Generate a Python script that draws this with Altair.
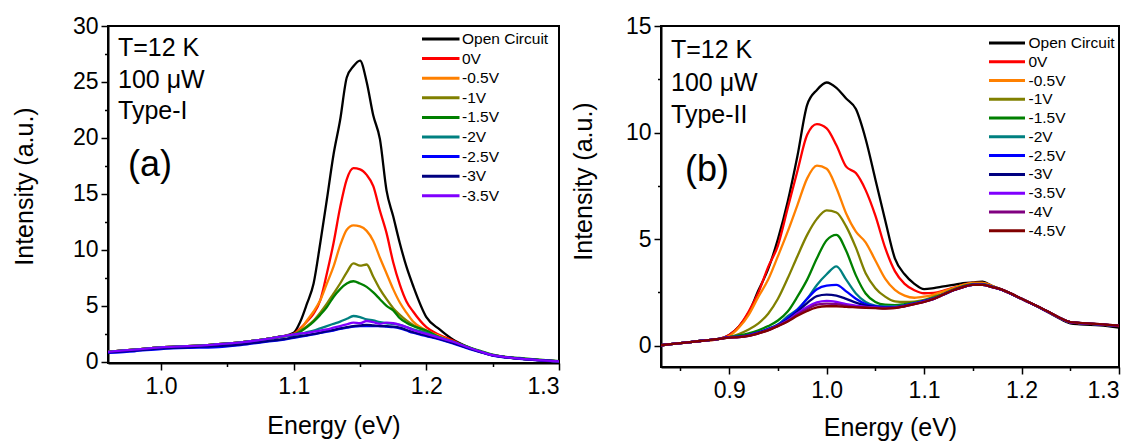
import altair as alt
import pandas as pd

# ---------------- data: panel (a) Type-I ----------------
energy_a = [0.96, 0.98, 1.0, 1.02, 1.04, 1.06, 1.08, 1.09, 1.1, 1.105, 1.11, 1.115, 1.12, 1.125,
            1.13, 1.135, 1.14, 1.145, 1.15, 1.155, 1.16, 1.165, 1.17, 1.175, 1.18, 1.185, 1.19,
            1.2, 1.21, 1.22, 1.23, 1.24, 1.25, 1.26, 1.27, 1.28, 1.29, 1.3]
a_open = [0.9, 1.1, 1.3, 1.4, 1.55, 1.75, 2.05, 2.25, 2.6, 3.6, 5.2, 7.0, 10.6, 14.5, 18.5, 21.6, 25.4, 26.4,
          26.9, 25.0, 22.0, 19.9, 15.3, 13.0, 10.6, 8.5, 6.8, 4.0, 2.9, 2.0, 1.4, 0.95, 0.6, 0.42, 0.3, 0.2, 0.12, 0.05]
a_0v = [0.9, 1.1, 1.3, 1.4, 1.55, 1.75, 2.05, 2.25, 2.5, 3.0, 3.6, 4.3, 5.5, 7.9, 10.6, 13.8, 16.3, 17.3,
        17.2, 16.7, 15.7, 13.5, 11.5, 8.9, 6.9, 5.4, 4.5, 3.1, 2.4, 1.9, 1.35, 0.95, 0.6, 0.42, 0.3, 0.2, 0.12, 0.05]
a_m05 = [0.9, 1.1, 1.3, 1.4, 1.55, 1.75, 2.05, 2.25, 2.45, 2.9, 3.7, 4.5, 5.5, 7.0, 8.5, 10.4, 11.8, 12.2,
         12.1, 11.7, 10.8, 9.3, 7.9, 6.5, 5.3, 4.4, 3.6, 2.8, 2.3, 1.8, 1.35, 0.95, 0.6, 0.42, 0.3, 0.2, 0.12, 0.05]
a_m1 = [0.9, 1.1, 1.3, 1.4, 1.55, 1.75, 2.05, 2.25, 2.45, 2.8, 3.2, 3.7, 4.4, 5.2, 6.1, 7.0, 8.0, 8.8,
        8.6, 8.7, 7.6, 6.5, 5.6, 4.8, 4.2, 3.7, 3.3, 2.7, 2.2, 1.8, 1.35, 0.95, 0.6, 0.42, 0.3, 0.2, 0.12, 0.05]
a_m15 = [0.9, 1.1, 1.3, 1.4, 1.55, 1.75, 2.05, 2.25, 2.45, 2.7, 3.1, 3.6, 4.2, 4.9, 5.8, 6.5, 7.0, 7.2,
         7.0, 6.7, 6.2, 5.6, 5.0, 4.6, 3.9, 3.5, 3.2, 2.8, 2.2, 1.8, 1.4, 1.0, 0.65, 0.45, 0.35, 0.25, 0.15, 0.07]
a_m2 = [0.9, 1.1, 1.3, 1.4, 1.55, 1.75, 2.05, 2.25, 2.4, 2.5, 2.65, 2.8, 3.0, 3.2, 3.4, 3.6, 3.85, 4.1,
        4.0, 3.8, 3.7, 3.55, 3.45, 3.4, 3.3, 3.1, 2.9, 2.6, 2.2, 1.8, 1.35, 0.95, 0.6, 0.42, 0.3, 0.2, 0.12, 0.05]
a_m25 = [0.8, 0.95, 1.15, 1.25, 1.3, 1.5, 1.8, 1.95, 2.15, 2.25, 2.35, 2.45, 2.6, 2.7, 2.8, 2.95, 3.05, 3.15,
         3.2, 3.2, 3.2, 3.2, 3.15, 3.1, 3.0, 2.8, 2.6, 2.3, 2.0, 1.65, 1.25, 0.9, 0.55, 0.4, 0.28, 0.18, 0.1, 0.04]
a_m3 = [0.85, 1.0, 1.2, 1.3, 1.4, 1.55, 1.85, 2.0, 2.2, 2.3, 2.4, 2.5, 2.6, 2.75, 2.85, 3.0, 3.1, 3.2,
        3.25, 3.3, 3.25, 3.2, 3.2, 3.15, 3.05, 2.85, 2.65, 2.35, 2.05, 1.7, 1.3, 0.92, 0.58, 0.41, 0.29, 0.19, 0.11, 0.05]
a_m35 = [0.9, 1.1, 1.3, 1.4, 1.55, 1.75, 2.05, 2.25, 2.45, 2.55, 2.6, 2.7, 2.8, 2.9, 3.05, 3.2, 3.35, 3.5,
         3.45, 3.65, 3.55, 3.4, 3.5, 3.45, 3.3, 3.1, 2.85, 2.5, 2.15, 1.8, 1.35, 0.95, 0.6, 0.42, 0.3, 0.2, 0.12, 0.05]
names_a = ["Open Circuit", "0V", "-0.5V", "-1V", "-1.5V", "-2V", "-2.5V", "-3V", "-3.5V"]
colors_a = ["#000000", "#FF0000", "#FF8000", "#808000", "#008000", "#008080", "#0000FF", "#000080", "#8000FF"]
series_a = [a_open, a_0v, a_m05, a_m1, a_m15, a_m2, a_m25, a_m3, a_m35]

# ---------------- data: panel (b) Type-II ----------------
energy_b = [0.83, 0.85, 0.87, 0.89, 0.9, 0.91, 0.92, 0.93, 0.94, 0.95, 0.96, 0.97, 0.98, 0.99, 1.0, 1.01,
            1.02, 1.03, 1.04, 1.05, 1.06, 1.07, 1.08, 1.09, 1.1, 1.11, 1.12, 1.13, 1.14, 1.15, 1.16, 1.17,
            1.18, 1.19, 1.2, 1.21, 1.22, 1.23, 1.24, 1.25, 1.26, 1.28, 1.3]
b_open = [0.02, 0.12, 0.22, 0.32, 0.5, 0.9, 1.55, 2.6, 3.6, 5.0, 6.75, 8.9, 11.3, 12.0, 12.35, 12.1, 11.6, 11.1,
          9.7, 7.8, 5.9, 4.1, 3.35, 2.9, 2.65, 2.7, 2.78, 2.85, 2.93, 2.97, 3.0, 2.8, 2.62, 2.42, 2.2, 1.98,
          1.75, 1.5, 1.25, 1.05, 1.0, 0.95, 0.85]
b_0v = [0.02, 0.12, 0.22, 0.32, 0.5, 0.9, 1.6, 2.5, 3.7, 4.7, 6.45, 8.2, 9.9, 10.4, 10.2, 9.4, 8.4, 8.1,
        7.3, 6.1, 4.6, 3.5, 2.9, 2.6, 2.46, 2.48, 2.58, 2.72, 2.85, 2.95, 2.95, 2.8, 2.62, 2.42, 2.2, 1.98,
        1.76, 1.52, 1.28, 1.1, 1.05, 1.0, 0.92]
b_m05 = [0.02, 0.12, 0.22, 0.32, 0.45, 0.85, 1.45, 2.3, 3.1, 4.2, 5.35, 6.6, 7.85, 8.45, 8.3, 7.4, 6.2, 5.35,
         4.85, 4.0, 3.15, 2.62, 2.35, 2.25, 2.3, 2.4, 2.55, 2.7, 2.85, 2.95, 2.95, 2.8, 2.62, 2.42, 2.2, 1.98,
         1.76, 1.52, 1.28, 1.1, 1.06, 1.0, 0.93]
b_m1 = [0.02, 0.12, 0.22, 0.32, 0.4, 0.55, 0.76, 1.05, 1.5, 2.2, 3.16, 4.2, 5.2, 5.95, 6.35, 6.25, 5.6, 4.6,
        3.4, 2.7, 2.3, 2.08, 2.05, 2.07, 2.15, 2.3, 2.45, 2.65, 2.8, 2.9, 2.9, 2.78, 2.62, 2.42, 2.2, 1.98,
        1.76, 1.52, 1.28, 1.1, 1.06, 1.0, 0.93]
b_m15 = [0.02, 0.12, 0.22, 0.32, 0.4, 0.48, 0.58, 0.72, 0.92, 1.18, 1.6, 2.3, 3.1, 4.1, 4.95, 5.2, 4.45, 3.3,
         2.45, 2.05, 1.92, 1.9, 1.95, 2.02, 2.12, 2.25, 2.42, 2.62, 2.78, 2.88, 2.88, 2.76, 2.62, 2.42, 2.2,
         1.98, 1.76, 1.52, 1.28, 1.1, 1.06, 1.0, 0.93]
b_m2 = [0.02, 0.12, 0.22, 0.32, 0.4, 0.42, 0.5, 0.62, 0.8, 1.0, 1.38, 1.7, 2.2, 2.85, 3.35, 3.72, 3.1, 2.45,
        2.05, 1.88, 1.85, 1.85, 1.9, 2.0, 2.1, 2.22, 2.4, 2.6, 2.76, 2.86, 2.86, 2.76, 2.62, 2.42, 2.2, 1.98,
        1.76, 1.52, 1.28, 1.1, 1.06, 1.0, 0.93]
b_m25 = [0.02, 0.12, 0.22, 0.32, 0.4, 0.42, 0.5, 0.62, 0.78, 0.98, 1.3, 1.68, 2.2, 2.65, 2.82, 2.85, 2.55, 2.2,
         1.95, 1.85, 1.8, 1.8, 1.88, 1.98, 2.1, 2.22, 2.4, 2.6, 2.76, 2.86, 2.86, 2.76, 2.62, 2.42, 2.2, 1.98,
         1.76, 1.52, 1.28, 1.1, 1.06, 1.0, 0.93]
b_m3 = [0.02, 0.12, 0.22, 0.32, 0.4, 0.41, 0.48, 0.6, 0.76, 0.96, 1.22, 1.6, 2.0, 2.33, 2.4, 2.35, 2.2, 2.02,
        1.88, 1.82, 1.78, 1.8, 1.87, 1.97, 2.08, 2.2, 2.4, 2.6, 2.75, 2.85, 2.85, 2.75, 2.62, 2.42, 2.2, 1.98,
        1.76, 1.52, 1.28, 1.1, 1.06, 1.0, 0.93]
b_m35 = [0.02, 0.12, 0.22, 0.32, 0.39, 0.4, 0.47, 0.59, 0.74, 0.94, 1.18, 1.52, 1.82, 2.03, 2.1, 2.05, 1.95,
         1.88, 1.82, 1.8, 1.77, 1.78, 1.86, 1.96, 2.07, 2.2, 2.4, 2.6, 2.75, 2.85, 2.85, 2.75, 2.62, 2.42, 2.2,
         1.98, 1.76, 1.52, 1.28, 1.1, 1.06, 1.0, 0.93]
b_m4 = [0.02, 0.12, 0.22, 0.32, 0.38, 0.4, 0.46, 0.58, 0.73, 0.93, 1.15, 1.46, 1.72, 1.93, 1.97, 1.95, 1.88,
        1.82, 1.79, 1.77, 1.75, 1.77, 1.85, 1.95, 2.06, 2.2, 2.4, 2.6, 2.75, 2.85, 2.85, 2.75, 2.63, 2.43, 2.2,
        1.99, 1.77, 1.53, 1.29, 1.11, 1.07, 1.01, 0.94]
b_m45 = [0.02, 0.12, 0.22, 0.32, 0.38, 0.4, 0.46, 0.58, 0.72, 0.92, 1.13, 1.4, 1.63, 1.8, 1.85, 1.85, 1.82,
         1.8, 1.78, 1.76, 1.74, 1.76, 1.85, 1.95, 2.05, 2.2, 2.4, 2.6, 2.75, 2.85, 2.85, 2.75, 2.63, 2.43, 2.2,
         1.99, 1.77, 1.53, 1.29, 1.11, 1.07, 1.01, 0.94]
names_b = ["Open Circuit", "0V", "-0.5V", "-1V", "-1.5V", "-2V", "-2.5V", "-3V", "-3.5V", "-4V", "-4.5V"]
colors_b = ["#000000", "#FF0000", "#FF8000", "#808000", "#008000", "#008080", "#0000FF", "#000080",
            "#8000FF", "#800080", "#800000"]
series_b = [b_open, b_0v, b_m05, b_m1, b_m15, b_m2, b_m25, b_m3, b_m35, b_m4, b_m45]

# tick values
xticks_a = [1.0, 1.05, 1.1, 1.15, 1.2, 1.25, 1.3]
yticks_a = [0, 2.5, 5, 7.5, 10, 12.5, 15, 17.5, 20, 22.5, 25, 27.5, 30]
xticks_b = [0.85, 0.9, 0.95, 1.0, 1.05, 1.1, 1.15, 1.2, 1.25, 1.3]
yticks_b = [0, 2.5, 5, 7.5, 10, 12.5, 15]

for s in series_a:
    assert len(s) == len(energy_a)
for s in series_b:
    assert len(s) == len(energy_b)

FONT = "Liberation Sans"


def long_df(energy, names, series):
    rows = []
    for n, vals in zip(names, series):
        for e, v in zip(energy, vals):
            rows.append({"E": e, "I": v, "series": n})
    return pd.DataFrame(rows)


X_MAJOR = "abs(datum.value*10 - round(datum.value*10)) < 0.01"
Y_MAJOR = "abs(datum.value/5 - round(datum.value/5)) < 0.01"
ONE = pd.DataFrame({"k": [0]})


def panel(df, names, colors, xdom, ydom, xticks, yticks, w, h, ann, leg, ytitle, xtitle_y):
    color = alt.Color("series:N", scale=alt.Scale(domain=names, range=colors), legend=None)
    xaxis = alt.Axis(
        values=xticks, labelExpr=f"{X_MAJOR} ? format(datum.value, '.1f') : ''",
        tickSize={"condition": {"test": X_MAJOR, "value": 7}, "value": 3.5},
        title="Energy (eV)", titleX=w / 2, titleY=xtitle_y, titleBaseline="middle",
        labelPadding=5, grid=False)
    yaxis = alt.Axis(
        values=yticks, labelExpr=f"{Y_MAJOR} ? format(datum.value, 'd') : ''",
        tickSize={"condition": {"test": Y_MAJOR, "value": 7}, "value": 3.5},
        title="Intensity (a.u.)", titleX=ytitle[0], titleY=ytitle[1], titleBaseline="middle",
        titleAngle=270, labelPadding=3, grid=False)
    lines = alt.Chart(df).mark_line(strokeWidth=2.3, clip=True, interpolate="monotone").encode(
        x=alt.X("E:Q", scale=alt.Scale(domain=xdom, nice=False, zero=False), axis=xaxis),
        y=alt.Y("I:Q", scale=alt.Scale(domain=ydom, nice=False, zero=False), axis=yaxis),
        color=color,
    )
    leg_df = pd.DataFrame({"series": names})
    n = len(names)
    ly = alt.Y("series:N", sort=names,
               scale=alt.Scale(type="point", domain=names,
                               range=[leg["y0"], leg["y0"] + (n - 1) * leg["dy"]], padding=0),
               axis=None)
    rules = alt.Chart(leg_df).mark_rule(strokeWidth=3).encode(
        y=ly, x=alt.value(leg["x0"]), x2=alt.value(leg["x1"]), color=color)
    labels = alt.Chart(leg_df).mark_text(align="left", baseline="middle", fontSize=15.5, font=FONT,
                                         color="black").encode(
        y=ly, x=alt.value(leg["tx"]), text="series:N")
    texts = []
    for (t, x, y, fs) in ann:
        texts.append(alt.Chart(ONE).mark_text(align="left", baseline="middle", fontSize=fs, font=FONT,
                                              color="black").encode(
            x=alt.value(x), y=alt.value(y), text=alt.value(t)))
    return alt.layer(lines, rules, labels, *texts).resolve_scale(y="independent").properties(width=w, height=h)


df_a = long_df(energy_a, names_a, series_a)
df_b = long_df(energy_b, names_b, series_b)

WA, HA = 451, 337
WB, HB = 458, 341

pa = panel(df_a, names_a, colors_a, [0.96, 1.3], [-0.1, 30], xticks_a, yticks_a, WA, HA,
           [("T=12 K", 10, 22, 25), ("100 μW", 10, 54, 25), ("Type-I", 10, 85, 25), ("(a)", 20, 139, 36)],
           {"x0": 314, "x1": 351.5, "tx": 354, "y0": 13, "dy": 19.6},
           (-84, 160), 62)
pb = panel(df_b, names_b, colors_b, [0.83, 1.3], [-1, 15], xticks_b, yticks_b, WB, HB,
           [("T=12 K", 10, 24, 25), ("100 μW", 10, 57, 25), ("Type-II", 10, 89, 25), ("(b)", 24, 144, 36)],
           {"x0": 328, "x1": 364, "tx": 367.5, "y0": 17, "dy": 18.77},
           (-78, 155), 60)

chart = alt.hconcat(pa, pb, spacing=102, bounds="flush").resolve_scale(
    color="independent"
).properties(
    padding={"left": 11, "top": 14, "right": 0, "bottom": 0},
    background="white",
).configure_view(
    stroke="black", strokeWidth=2
).configure_axis(
    domainColor="black", domainWidth=2, tickColor="black", tickWidth=1.5,
    labelFont=FONT, labelFontSize=23, labelColor="black",
    titleFont=FONT, titleFontSize=25, titleFontWeight="normal", titleColor="black",
)

chart.save("out.html", embed_options={"renderer": "svg", "actions": False})
